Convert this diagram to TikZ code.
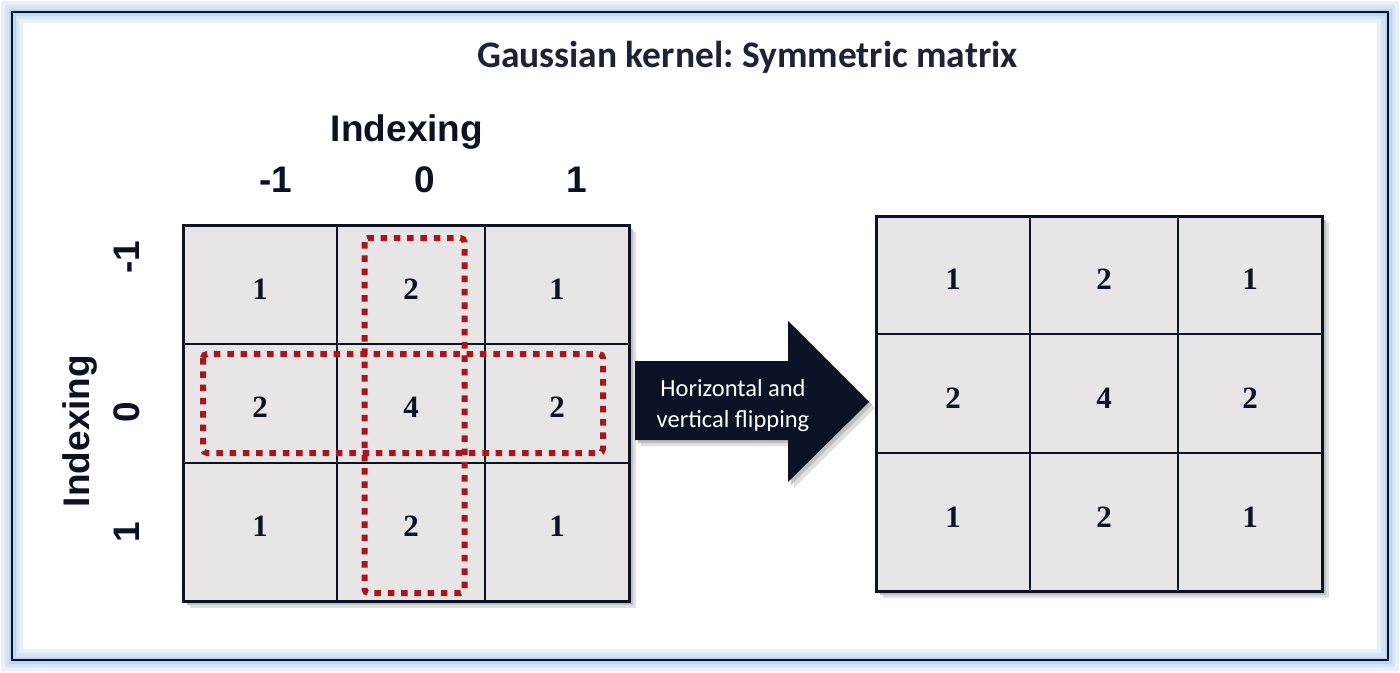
\documentclass[tikz,border=0pt]{standalone}
\usepackage{fontspec}
\newfontfamily\carl{Carlito}
\newfontfamily\arl{Liberation Sans}
\newfontfamily\tms{Liberation Serif}
\definecolor{navy}{HTML}{0B1226}
\definecolor{titlec}{HTML}{1C2338}
\definecolor{cellfill}{HTML}{E7E5E6}
\definecolor{dred}{HTML}{A8161B}
\definecolor{glow}{HTML}{BCD7F2}
\frenchspacing
\begin{document}
\begin{tikzpicture}[x=1pt,y=-1pt,
  num/.style={font=\fontsize{31}{34}\selectfont\tms\bfseries, text=navy, inner sep=0pt},
  lab/.style={font=\fontsize{37}{40}\selectfont\arl\bfseries, text=navy, inner sep=0pt},
  gridline/.style={draw=navy, line width=2},
  gridframe/.style={draw=navy, line width=3},
  shadowA/.style={fill=gray!25},
  shadowB/.style={fill=gray!50},
  redbox/.style={draw=dred, line width=6, dash pattern=on 6.5 off 6.8, rounded corners=4}]
\useasboundingbox (0,0) rectangle (1400,672);
\fill[white] (0,0) rectangle (1400,672);
% frame with glow
\draw[glow!35, line width=22] (12,12) rectangle (1388,660);
\draw[glow!65, line width=14] (12,12) rectangle (1388,660);
\draw[glow, line width=7] (12,12) rectangle (1388,660);
\draw[navy, line width=2.2] (12,12) rectangle (1388,660);
% title
\node[font=\fontsize{37.5}{42}\selectfont\carl\bfseries, text=titlec, inner sep=0pt, anchor=base] (title) at (747.5,67) {Gaussian kernel: Symmetric matrix};
% top labels
\node[lab] (tidx) at (407,132) {Indexing};
\node[lab] (tm1) at (276,180) {-1};
\node[lab] (t0) at (425,180) {0};
\node[lab] (t1) at (577,180) {1};
% left labels
\node[lab, rotate=90] (lidx) at (80,431) {Indexing};
\node[lab, rotate=90] (lm1) at (127,257) {-1};
\node[lab, rotate=90] (l0) at (127,412) {0};
\node[lab, rotate=90] (l1) at (127,532) {1};
% left grid
\fill[shadowA] (190,232) rectangle (636,608);
\fill[shadowB] (187,229) rectangle (633,605);
\fill[cellfill] (183,225) rectangle (629,601);
\draw[gridline] (337,225) -- (337,601);
\draw[gridline] (485,225) -- (485,601);
\draw[gridline] (183,344) -- (629,344);
\draw[gridline] (183,463) -- (629,463);
\draw[gridframe] (183,225) rectangle (629,601);
\node[num] (a11) at (260,289) {1};
\node[num] (a12) at (411,289) {2};
\node[num] (a13) at (557,289) {1};
\node[num] (a21) at (260,407) {2};
\node[num] (a22) at (411,407) {4};
\node[num] (a23) at (557,407) {2};
\node[num] (a31) at (260,526) {1};
\node[num] (a32) at (411,526) {2};
\node[num] (a33) at (557,526) {1};
% red dotted boxes
\draw[redbox] (364.5,238) rectangle (464.5,593);
\draw[redbox] (203,354) rectangle (603,453);
% arrow
\fill[shadowA] (641,367) -- (794,367) -- (794,327) -- (875,408) -- (794,488) -- (794,446) -- (641,446) -- cycle;
\fill[shadowB] (638,364) -- (791,364) -- (791,324) -- (872,405) -- (791,485) -- (791,443) -- (638,443) -- cycle;
\fill[navy] (635,361) -- (788,361) -- (788,321) -- (869,402) -- (788,482) -- (788,440) -- (635,440) -- cycle;
\node[font=\fontsize{24.5}{31}\selectfont\carl, text=white, align=center, inner sep=0pt] (alab) at (733,406) {Horizontal and\\vertical flipping};
% right grid
\fill[shadowA] (883,223) rectangle (1329,598);
\fill[shadowB] (880,220) rectangle (1326,595);
\fill[cellfill] (876,216) rectangle (1322,591);
\draw[gridline] (1030,216) -- (1030,591);
\draw[gridline] (1178,216) -- (1178,591);
\draw[gridline] (876,334) -- (1322,334);
\draw[gridline] (876,453) -- (1322,453);
\draw[gridframe] (876,216) rectangle (1322,591);
\node[num] (b11) at (953,279) {1};
\node[num] (b12) at (1104,279) {2};
\node[num] (b13) at (1250,279) {1};
\node[num] (b21) at (953,398) {2};
\node[num] (b22) at (1104,398) {4};
\node[num] (b23) at (1250,398) {2};
\node[num] (b31) at (953,517) {1};
\node[num] (b32) at (1104,517) {2};
\node[num] (b33) at (1250,517) {1};
\end{tikzpicture}
\end{document}
